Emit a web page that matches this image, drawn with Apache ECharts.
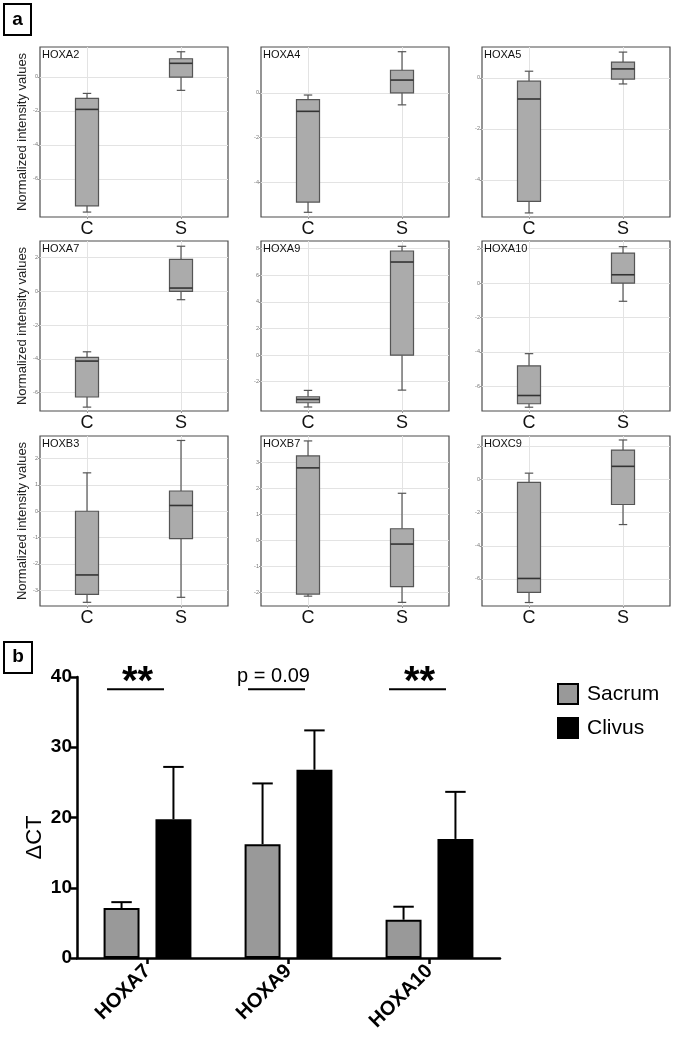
<!DOCTYPE html>
<html><head><meta charset="utf-8">
<script src="https://cdn.jsdelivr.net/npm/echarts@6/dist/echarts.min.js"></script>
<style>html,body{margin:0;padding:0;background:#fff}#c{width:675px;height:1040px}</style>
</head><body><div id="c"></div>
<script>
// ---------- Panel a data ----------
const genes = ['HOXA2','HOXA4','HOXA5','HOXA7','HOXA9','HOXA10','HOXB3','HOXB7','HOXC9'];
const groups = ['C','S'];
// [low whisker, Q1, median, Q3, high whisker]
const boxC = [
  [-7.96,-7.59,-1.92,-1.27,-0.98],
  [-5.35,-4.89,-0.83,-0.31,-0.10],
  [-5.30,-4.85,-0.83,-0.13,0.26],
  [-6.86,-6.26,-4.13,-3.91,-3.58],
  [-3.90,-3.58,-3.33,-3.13,-2.65],
  [-7.21,-7.01,-6.53,-4.81,-4.10],
  [-3.46,-3.16,-2.42,0.00,1.46],
  [-2.16,-2.08,2.79,3.25,3.83],
  [-7.42,-6.81,-5.97,-0.18,0.38]
];
const boxS = [
  [-0.80,-0.02,0.79,1.06,1.47],
  [-0.54,0.00,0.57,1.01,1.84],
  [-0.24,-0.05,0.35,0.62,1.01],
  [-0.49,0.00,0.20,1.90,2.68],
  [-2.63,0.00,7.00,7.83,8.18],
  [-1.06,0.00,0.48,1.74,2.11],
  [-3.27,-1.04,0.22,0.77,2.69],
  [-2.40,-1.79,-0.15,0.44,1.81],
  [-2.72,-1.51,0.79,1.77,2.38]
];
const yMin = [-8.25,-5.56,-5.46,-7.09,-4.2,-7.43,-3.6,-2.54,-7.63];
const yMax = [1.75,2.05,1.21,2.99,8.58,2.44,2.86,4.02,2.62];
const yTicks = [
  [-6,-4,-2,0],
  [-4,-2,0],
  [-4,-2,0],
  [-6,-4,-2,0,2],
  [-2,0,2,4,6,8],
  [-6,-4,-2,0,2],
  [-3,-2,-1,0,1,2],
  [-2,-1,0,1,2,3],
  [-6,-4,-2,0,2]
];
const yNameA = 'Normalized intensity values';

// ---------- Panel b data ----------
const genesB = ['HOXA7','HOXA9','HOXA10'];
const sacrum = [7.1, 16.2, 5.45];
const sacrumSD = [0.85, 8.65, 1.85];
const clivus = [19.75, 26.8, 16.95];
const clivusSD = [7.45, 5.6, 6.7];
const sigLabels = ['**','p = 0.09','**'];
const sigLevel = 38.25;
const yTicksB = [0, 40, 10]; // min, max, interval

const FONT = '"Liberation Sans", Arial, Helvetica, sans-serif';
const chart = echarts.init(document.getElementById('c'), null, {renderer:'canvas'});

function boxItem(params, api) {
  const x = api.value(0);
  const lo = api.coord([x, api.value(1)]);
  const q1 = api.coord([x, api.value(2)]);
  const md = api.coord([x, api.value(3)]);
  const q3 = api.coord([x, api.value(4)]);
  const hi = api.coord([x, api.value(5)]);
  const bw = api.size([0.245, 0])[0];
  const cw = api.size([0.09, 0])[0];
  const cx = lo[0];
  const ws = {stroke:'#555', lineWidth:1.2};
  return {type:'group', children:[
    {type:'line', shape:{x1:cx,y1:hi[1],x2:cx,y2:q3[1]}, style:ws},
    {type:'line', shape:{x1:cx,y1:q1[1],x2:cx,y2:lo[1]}, style:ws},
    {type:'line', shape:{x1:cx-cw/2,y1:hi[1],x2:cx+cw/2,y2:hi[1]}, style:ws},
    {type:'line', shape:{x1:cx-cw/2,y1:lo[1],x2:cx+cw/2,y2:lo[1]}, style:ws},
    {type:'rect', shape:{x:cx-bw/2,y:q3[1],width:bw,height:q1[1]-q3[1]}, style:{fill:'#ababab',stroke:'#555',lineWidth:1.2}},
    {type:'line', shape:{x1:cx-bw/2,y1:md[1],x2:cx+bw/2,y2:md[1]}, style:{stroke:'#333',lineWidth:1.6}}
  ]};
}

const colX = [40, 261, 482], rowY = [47, 241, 436], PW = 188, PH = 170;
const grids = [], xAxes = [], yAxes = [], series = [], titles = [];
genes.forEach((g, i) => {
  const r = Math.floor(i / 3), c = i % 3;
  grids.push({left: colX[c], top: rowY[r], width: PW, height: PH, show: true,
    borderColor: '#4d4d4d', borderWidth: 1.2, backgroundColor: 'rgba(0,0,0,0)', containLabel: false});
  xAxes.push({type: 'value', gridIndex: i, min: 0, max: 2,
    axisLine: {show: false, onZero: false},
    axisTick: {show: true, customValues: [0.5, 1.5], length: 2, lineStyle: {color: '#999'}},
    axisLabel: {customValues: [0.5, 1.5], formatter: v => groups[Math.floor(v)], fontSize: 18, color: '#111', margin: 3, fontFamily: FONT},
    splitLine: {show: true, lineStyle: {color: '#e3e3e3', width: 1}}});
  yAxes.push({type: 'value', gridIndex: i, min: yMin[i], max: yMax[i],
    axisLine: {show: false, onZero: false},
    axisTick: {show: true, customValues: yTicks[i], length: 2, lineStyle: {color: '#999'}},
    axisLabel: {customValues: yTicks[i], fontSize: 5.5, color: '#777', margin: 2, fontFamily: FONT},
    splitLine: {show: true, lineStyle: {color: '#e3e3e3', width: 1}},
    name: c === 0 ? yNameA : '', nameLocation: 'middle', nameRotate: 90, nameGap: 11,
    nameTextStyle: {fontSize: 13, color: '#222', fontFamily: FONT}});
  series.push({type: 'custom', xAxisIndex: i, yAxisIndex: i, renderItem: boxItem, silent: true, clip: false,
    data: [[0.5].concat(boxC[i]), [1.5].concat(boxS[i])], encode: {x: 0, y: [1, 2, 3, 4, 5]}});
  titles.push({text: g, left: colX[c] + 2, top: rowY[r] + 2, padding: 0,
    textStyle: {fontSize: 11, fontWeight: 'normal', color: '#111', fontFamily: FONT}});
});

// ---------- Panel b ----------
const B = 9;
const barW = 0.255, barGapFrac = 0.113;
const off = (barW + barGapFrac) / 2;
grids.push({left: 77, top: 677, width: 423, height: 281});
xAxes.push({type: 'category', gridIndex: B, data: genesB,
  axisLine: {show: true, lineStyle: {color: '#000', width: 2.5}},
  axisTick: {show: true, alignWithLabel: true, length: 6, lineStyle: {color: '#000', width: 2.5}},
  axisLabel: {rotate: 45, fontSize: 20, fontWeight: 'bold', color: '#000', margin: 10, fontFamily: FONT},
  splitLine: {show: false}});
yAxes.push({type: 'value', gridIndex: B, min: yTicksB[0], max: yTicksB[1], interval: yTicksB[2],
  axisLine: {show: true, lineStyle: {color: '#000', width: 2.5}},
  axisTick: {show: true, length: 6, lineStyle: {color: '#000', width: 2.5}},
  axisLabel: {fontSize: 19, fontWeight: 'bold', color: '#000', margin: 5, fontFamily: FONT},
  splitLine: {show: false},
  name: 'ΔCT', nameLocation: 'middle', nameRotate: 90, nameGap: 31, nameMoveOverlap: false,
  nameTextStyle: {fontSize: 22, color: '#000', fontFamily: FONT, padding: [0, 40, 0, 0]}});

series.push({name: 'Sacrum', type: 'bar', xAxisIndex: B, yAxisIndex: B, data: sacrum,
  barWidth: (barW * 100) + '%', barGap: (barGapFrac / barW * 100) + '%',
  itemStyle: {color: '#999999', borderColor: '#000', borderWidth: 2}, silent: true, z: 2});
series.push({name: 'Clivus', type: 'bar', xAxisIndex: B, yAxisIndex: B, data: clivus,
  barWidth: (barW * 100) + '%',
  itemStyle: {color: '#000', borderColor: '#000', borderWidth: 2}, silent: true, z: 2});

function errItem(sign) {
  return function (params, api) {
    const i = api.value(0);
    const band = api.size([1, 0])[0];
    const base = api.coord([i, api.value(1)]);
    const top = api.coord([i, api.value(1) + api.value(2)]);
    const x = base[0] + sign * off * band;
    const cw = 0.145 * band;
    const st = {stroke: '#000', lineWidth: 2};
    return {type: 'group', children: [
      {type: 'line', shape: {x1: x, y1: base[1], x2: x, y2: top[1]}, style: st},
      {type: 'line', shape: {x1: x - cw / 2, y1: top[1], x2: x + cw / 2, y2: top[1]}, style: st}
    ]};
  };
}
series.push({type: 'custom', xAxisIndex: B, yAxisIndex: B, renderItem: errItem(-1), silent: true, z: 1,
  data: genesB.map((g, i) => [i, sacrum[i], sacrumSD[i]])});
series.push({type: 'custom', xAxisIndex: B, yAxisIndex: B, renderItem: errItem(1), silent: true, z: 1,
  data: genesB.map((g, i) => [i, clivus[i], clivusSD[i]])});

series.push({type: 'custom', xAxisIndex: B, yAxisIndex: B, silent: true, z: 3, clip: false,
  data: genesB.map((g, i) => [i, sigLevel]),
  renderItem: function (params, api) {
    const i = api.value(0);
    const band = api.size([1, 0])[0];
    const p = api.coord([i, api.value(1)]);
    const x1 = p[0] - 0.287 * band, x2 = p[0] + 0.117 * band;
    const lab = sigLabels[params.dataIndex];
    const isStar = lab.indexOf('*') >= 0;
    return {type: 'group', children: [
      {type: 'line', shape: {x1: x1, y1: p[1], x2: x2, y2: p[1]}, style: {stroke: '#000', lineWidth: 2}},
      {type: 'text', x: (x1 + x2) / 2 + (isStar ? 2 : -3), y: p[1] - (isStar ? 6 : 13),
        style: {text: lab, fill: '#000', align: 'center', verticalAlign: 'middle',
          font: (isStar ? 'bold 40px ' : 'normal 20px ') + FONT}}
    ]};
  }});

const option = {
  backgroundColor: '#fff',
  animation: false,
  title: titles,
  legend: {data: ['Sacrum', 'Clivus'], orient: 'vertical', left: 557, top: 683, padding: 0, itemWidth: 20, itemHeight: 20,
    itemGap: 12, icon: 'rect', textStyle: {fontSize: 21, color: '#000', fontFamily: FONT, padding: [0, 0, 0, 4]}},
  grid: grids, xAxis: xAxes, yAxis: yAxes, series: series,
  graphic: [
    {type: 'rect', shape: {x: 4, y: 4, width: 27, height: 31}, style: {fill: '#fff', stroke: '#000', lineWidth: 2}},
    {type: 'text', x: 17.5, y: 20, style: {text: 'a', font: 'bold 19px ' + FONT, fill: '#000', align: 'center', verticalAlign: 'middle'}},
    {type: 'rect', shape: {x: 4, y: 642, width: 28, height: 31}, style: {fill: '#fff', stroke: '#000', lineWidth: 2}},
    {type: 'text', x: 18, y: 657, style: {text: 'b', font: 'bold 19px ' + FONT, fill: '#000', align: 'center', verticalAlign: 'middle'}}
  ]
};
chart.setOption(option);
</script></body></html>
